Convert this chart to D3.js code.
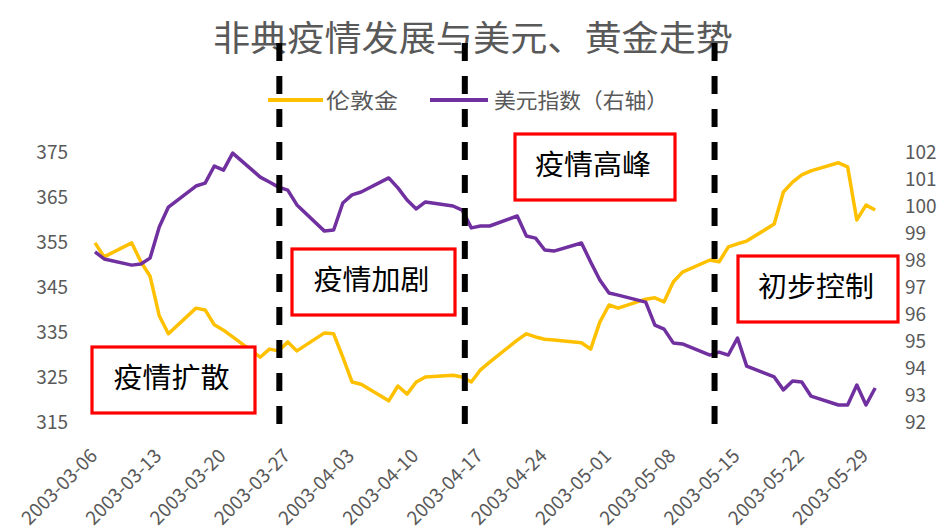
<!DOCTYPE html>
<html><head><meta charset="utf-8">
<script src="https://cdn.jsdelivr.net/npm/d3@7"></script>
<style>body{margin:0;background:#fff}svg{display:block}</style>
</head><body><svg id="c" width="944" height="530"></svg>
<script>
const dates = ["2003-03-06","2003-03-07","2003-03-10","2003-03-11","2003-03-12","2003-03-13","2003-03-14","2003-03-17","2003-03-18","2003-03-19","2003-03-20","2003-03-21","2003-03-24","2003-03-25","2003-03-26","2003-03-27","2003-03-28","2003-03-31",
"2003-04-01","2003-04-02","2003-04-03","2003-04-04","2003-04-07","2003-04-08","2003-04-09","2003-04-10","2003-04-11","2003-04-14","2003-04-15","2003-04-16","2003-04-17","2003-04-18","2003-04-21","2003-04-22","2003-04-23","2003-04-24","2003-04-25","2003-04-28","2003-04-29","2003-04-30",
"2003-05-01","2003-05-02","2003-05-05","2003-05-06","2003-05-07","2003-05-08","2003-05-09","2003-05-12","2003-05-13","2003-05-14","2003-05-15","2003-05-16","2003-05-19","2003-05-20","2003-05-21","2003-05-22","2003-05-23","2003-05-26","2003-05-27","2003-05-28","2003-05-29","2003-05-30"];
const gold = [354.8,351.7,354.8,350.6,347.4,338.6,334.6,340.3,339.9,336.6,335.4,333.9,329.4,331.2,330.8,332.8,330.8,334.8,
334.6,329.4,323.9,323.4,319.7,323.0,321.2,323.9,325.0,325.4,325.0,323.9,326.6,328.3,333.2,334.6,333.9,333.4,333.2,332.6,331.2,337.2,
341.0,340.3,342.3,342.6,341.7,346.1,348.3,351.0,350.6,353.9,354.6,355.2,359.0,366.1,368.3,369.9,370.8,372.6,371.7,359.9,363.2,362.1];
const usd = [98.30,98.04,97.81,97.85,98.07,99.22,99.96,100.74,100.85,101.48,101.33,101.96,101.07,100.89,100.70,100.59,100.04,99.07,
99.11,100.11,100.41,100.52,101.04,100.67,100.22,99.89,100.15,100.00,99.85,99.19,99.26,99.26,99.63,98.89,98.81,98.37,98.33,98.63,97.93,97.26,
96.78,96.70,96.44,95.59,95.44,94.93,94.89,94.48,94.59,94.48,95.11,94.07,93.67,93.19,93.52,93.48,92.96,92.63,92.63,93.37,92.63,93.26];
const leftTicks = [315,325,335,345,355,365,375];
const rightTicks = [92,93,94,95,96,97,98,99,100,101,102];
const xTickLabels = ["2003-03-06","2003-03-13","2003-03-20","2003-03-27","2003-04-03","2003-04-10","2003-04-17","2003-04-24","2003-05-01","2003-05-08","2003-05-15","2003-05-22","2003-05-29"];
const phaseLabels = ["疫情扩散","疫情加剧","疫情高峰","初步控制"];
const dividerDates = ["2003-03-26T02:00","2003-04-15T07:00","2003-05-12T12:00"];
const seriesNames = ["伦敦金","美元指数（右轴）"];
const title = "非典疫情发展与美元、黄金走势";

const parse = d3.timeParse("%Y-%m-%d");
const parseT = d3.timeParse("%Y-%m-%dT%H:%M");
const FONT = "'Noto Sans CJK SC','Noto Sans',sans-serif";
const GREY = "#595959";
const svg = d3.select("#c");

const x = d3.scaleTime().domain([parse("2003-03-06"), parse("2003-05-29")]).range([95, 866]);
const yL = d3.scaleLinear().domain([315, 375]).range([422, 152]);
const yR = d3.scaleLinear().domain([92, 102]).range([422, 152]);

// title
svg.append("text").attr("x", 473).attr("y", 51).attr("text-anchor", "middle")
  .attr("font-family", FONT).attr("font-size", 35).attr("fill", GREY)
  .attr("textLength", 520).attr("lengthAdjust", "spacingAndGlyphs").text(title);

// legend
const legend = [{c: "#FFC000", x0: 268, x1: 323, tx: 326, tl: 72}, {c: "#7030A0", x0: 430, x1: 488, tx: 494, tl: 174}];
legend.forEach((l, i) => {
  svg.append("line").attr("x1", l.x0).attr("x2", l.x1).attr("y1", 100).attr("y2", 100)
    .attr("stroke", l.c).attr("stroke-width", 4);
  svg.append("text").attr("x", l.tx).attr("y", 108).attr("font-family", FONT).attr("font-size", 21)
    .attr("fill", GREY).attr("textLength", l.tl).attr("lengthAdjust", "spacingAndGlyphs").text(seriesNames[i]);
});

// axes
const axL = svg.append("g").attr("transform", "translate(70,0)")
  .call(d3.axisLeft(yL).tickValues(leftTicks).tickSize(0).tickPadding(2));
const axR = svg.append("g").attr("transform", "translate(903,0)")
  .call(d3.axisRight(yR).tickValues(rightTicks).tickSize(0).tickPadding(2));
[axL, axR].forEach(g => {
  g.select(".domain").remove();
  g.selectAll("text").attr("font-family", FONT).attr("font-size", 19).attr("fill", GREY);
});
const axB = svg.append("g").attr("transform", "translate(0,440)")
  .call(d3.axisBottom(x).tickValues(xTickLabels.map(parse)).tickSize(0).tickFormat(d3.timeFormat("%Y-%m-%d")));
axB.select(".domain").remove();
axB.selectAll("text").attr("font-family", FONT).attr("font-size", 19).attr("fill", GREY)
  .attr("text-anchor", "end").attr("dy", null).attr("y", 0)
  .attr("transform", "translate(3,17) rotate(-45)");

// lines
const pts = dates.map(parse);
const lineG = d3.line().x((d, i) => x(pts[i])).y(d => yL(d));
const lineU = d3.line().x((d, i) => x(pts[i])).y(d => yR(d));
svg.append("path").datum(gold).attr("d", lineG).attr("fill", "none")
  .attr("stroke", "#FFC000").attr("stroke-width", 3.5).attr("stroke-linejoin", "round");
svg.append("path").datum(usd).attr("d", lineU).attr("fill", "none")
  .attr("stroke", "#7030A0").attr("stroke-width", 3.5).attr("stroke-linejoin", "round");

// annotation boxes
const boxes = [[92, 347, 163, 66], [292, 249, 163, 66], [515, 134, 160, 66], [738, 256, 160, 66]];
boxes.forEach((b, i) => {
  svg.append("rect").attr("x", b[0]).attr("y", b[1]).attr("width", b[2]).attr("height", b[3])
    .attr("fill", "#fff").attr("stroke", "#FF0000").attr("stroke-width", 3.2);
  svg.append("text").attr("x", b[0] + b[2] / 2 - 2).attr("y", b[1] + b[3] / 2 + 8)
    .attr("text-anchor", "middle").attr("font-family", FONT).attr("font-size", 28)
    .attr("fill", "#000").attr("textLength", 116).attr("lengthAdjust", "spacingAndGlyphs").text(phaseLabels[i]);
});

// dividers
dividerDates.forEach(d => {
  const xx = x(parseT(d));
  svg.append("line").attr("x1", xx).attr("x2", xx).attr("y1", 43).attr("y2", 424)
    .attr("stroke", "#000").attr("stroke-width", 6).attr("stroke-dasharray", "18,15");
});
</script></body></html>
